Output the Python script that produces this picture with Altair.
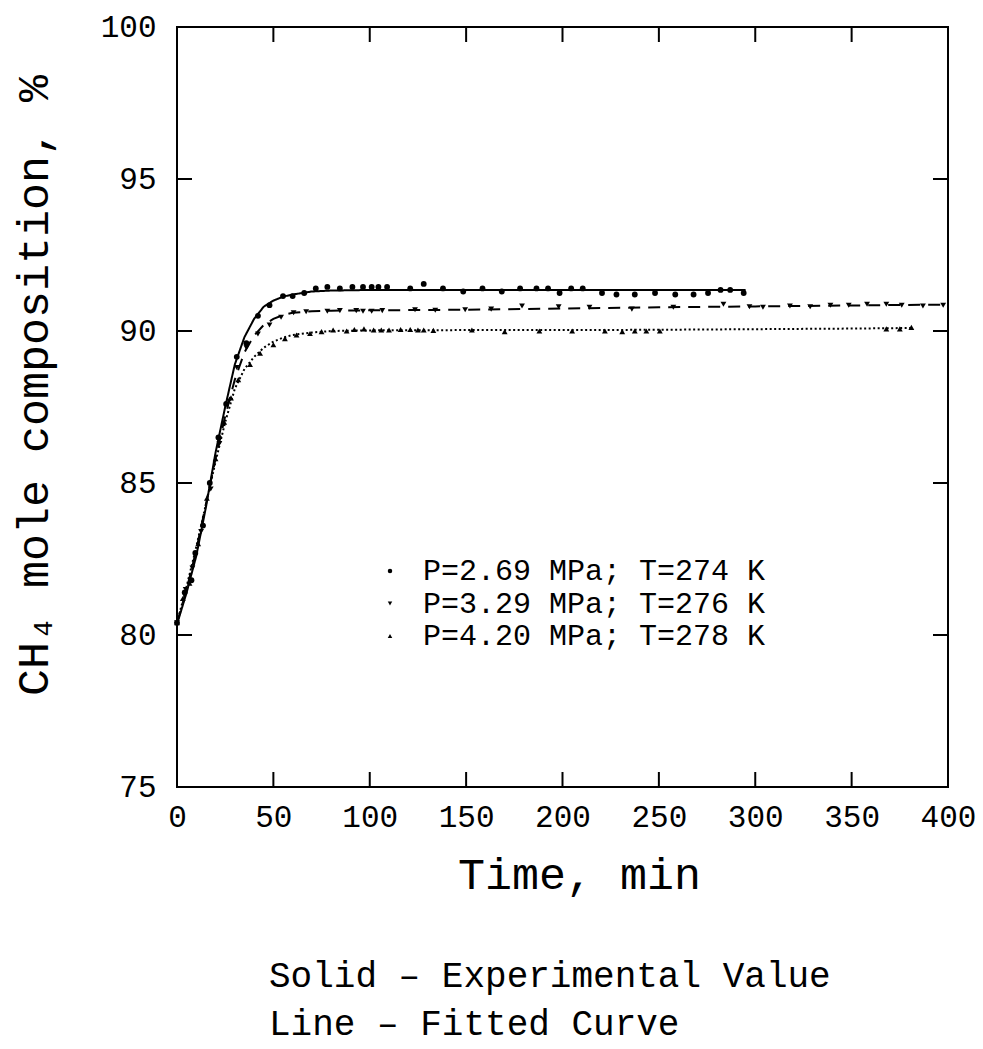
import altair as alt
import pandas as pd

FONT = "Liberation Mono"

series_names = ["P=2.69 MPa; T=274 K", "P=3.29 MPa; T=276 K", "P=4.20 MPa; T=278 K"]

# Experimental points (time in min, CH4 mole %)
t1 = [0, 4, 7.5, 9.5, 13.5, 17, 21.5, 25.5, 31, 36, 42, 48, 55, 60, 66, 72, 78, 84.5, 91,
      96.5, 101, 104.5, 109, 121, 128, 138, 148.5, 158.5, 168.5, 178, 186.5, 192.5, 198.5,
      204.5, 210.5, 220.5, 228, 237.5, 248, 258.5, 268, 275.5, 282, 287, 294]
y1 = [80.4, 81.4, 81.8, 82.7, 83.6, 85.0, 86.5, 87.6, 89.15, 89.6, 90.5, 90.85, 91.15, 91.15,
      91.25, 91.4, 91.45, 91.4, 91.45, 91.45, 91.45, 91.45, 91.45, 91.4, 91.55, 91.4, 91.3,
      91.4, 91.3, 91.4, 91.4, 91.4, 91.25, 91.4, 91.4, 91.25, 91.2, 91.2, 91.25, 91.2, 91.2,
      91.25, 91.35, 91.35, 91.25]

t2 = [0, 4.5, 8, 12.5, 17.5, 22, 27, 31, 36, 42, 48, 54, 60.5, 67, 78, 84.5, 93, 96.5, 101,
      106.5, 123.5, 134, 149.5, 163, 179, 198, 214, 236, 257.5, 283.5, 297, 304, 318, 328.5,
      339, 348.5, 358, 368, 376, 387, 397.5]
y2 = [80.4, 81.5, 82.2, 83.4, 84.8, 86.3, 87.7, 88.8, 89.45, 89.9, 90.2, 90.45, 90.6, 90.63,
      90.65, 90.67, 90.67, 90.65, 90.65, 90.67, 90.7, 90.68, 90.7, 90.72, 90.82, 90.8, 90.78,
      90.72, 90.78, 90.88, 90.8, 90.78, 90.82, 90.8, 90.85, 90.85, 90.88, 90.88, 90.85, 90.82,
      90.85]

t3 = [0, 3, 6.5, 11, 15.5, 20, 24.5, 28, 31.8, 37.9, 43.1, 50, 56, 62, 69, 75, 81, 88, 92, 97,
      102, 106, 110, 116, 121, 125, 128, 133, 153, 170, 188, 205, 222, 231, 237.5, 243.5,
      250.5, 368, 375, 381]
y3 = [80.4, 81.2, 81.7, 83.0, 84.5, 85.8, 87.0, 87.8, 88.4, 88.9, 89.27, 89.55, 89.75, 89.87,
      89.92, 89.98, 90.03, 90.0, 90.05, 90.07, 90.03, 90.03, 90.03, 90.05, 90.05, 90.03, 90.03,
      90.02, 90.03, 89.98, 90.0, 90.0, 90.0, 89.98, 90.0, 90.0, 90.0, 90.07, 90.07, 90.12]

# Fitted curves
ft1 = [0, 5, 10, 15, 20, 25, 30, 35, 40, 45, 50, 55, 60, 70, 80, 100, 150, 200, 250, 295]
fy1 = [80.35, 81.4, 82.6, 84.2, 86.0, 87.5, 88.9, 89.8, 90.4, 90.8, 91.0, 91.13, 91.2, 91.3,
       91.33, 91.35, 91.35, 91.35, 91.35, 91.35]
ft2 = [0, 5, 10, 15, 20, 25, 30, 35, 40, 45, 50, 55, 60, 70, 80, 100, 150, 200, 250, 300, 350, 400]
fy2 = [80.4, 81.5, 82.8, 84.3, 85.8, 87.2, 88.4, 89.3, 89.85, 90.2, 90.4, 90.52, 90.6, 90.65,
       90.67, 90.68, 90.7, 90.74, 90.78, 90.81, 90.84, 90.87]
ft3 = [0, 5, 10, 15, 20, 25, 30, 35, 40, 45, 50, 55, 60, 70, 80, 100, 150, 200, 250, 300, 350, 382]
fy3 = [80.4, 81.6, 82.9, 84.3, 85.7, 87.0, 88.1, 88.75, 89.15, 89.45, 89.65, 89.78, 89.87,
       89.95, 90.0, 90.02, 90.03, 90.03, 90.04, 90.06, 90.08, 90.1]

x_label_values = [0, 50, 100, 150, 200, 250, 300, 350, 400]
y_label_values = [75, 80, 85, 90, 95, 100]
x_tick_values = [50, 100, 150, 200, 250, 300, 350]
y_tick_values = [80, 85, 90, 95]

pts = pd.concat([
    pd.DataFrame({"t": t1, "v": y1, "s": series_names[0]}),
    pd.DataFrame({"t": t2, "v": y2, "s": series_names[1]}),
    pd.DataFrame({"t": t3, "v": y3, "s": series_names[2]}),
])
fit_frames = [
    pd.DataFrame({"t": ft1, "v": fy1}),
    pd.DataFrame({"t": ft2, "v": fy2}),
    pd.DataFrame({"t": ft3, "v": fy3}),
]
dashes = [[1, 0], [12, 8], [2, 2.5]]
xt = pd.DataFrame({"t": x_tick_values})
yt = pd.DataFrame({"v": y_tick_values})

W, H = 771, 760
xs = alt.Scale(domain=[0, 400], nice=False, zero=False)
ys = alt.Scale(domain=[75, 100], nice=False, zero=False)

x_axis = alt.Axis(values=x_label_values, tickSize=0, domain=False, grid=False, labelFlush=False,
                  labelFont=FONT, labelFontSize=31, labelColor="black", labelPadding=15,
                  labelBaseline="top", title="Time, min", titleFont=FONT, titleFontSize=45,
                  titleFontWeight="normal", titleColor="black", titleY=101, titleX=402,
                  titleAlign="center", titleBaseline="alphabetic")
y_axis = alt.Axis(values=y_label_values, tickSize=0, domain=False, grid=False,
                  labelFont=FONT, labelFontSize=31, labelColor="black", labelPadding=21,
                  title="CH₄ mole composition, %", titleFont=FONT, titleFontSize=45,
                  titleFontWeight="normal", titleColor="black", titleAngle=270,
                  titleX=-130, titleY=358, titleAlign="center", titleBaseline="alphabetic")

X = alt.X("t:Q", scale=xs, axis=x_axis)
Y = alt.Y("v:Q", scale=ys, axis=y_axis)

line_layers = [
    alt.Chart(df).mark_line(color="black", strokeWidth=2, strokeDash=d).encode(x=X, y=Y)
    for df, d in zip(fit_frames, dashes)
]

points = alt.Chart(pts).mark_point(filled=True, color="black", size=34, opacity=1).encode(
    x=X, y=Y,
    shape=alt.Shape("s:N", scale=alt.Scale(domain=series_names,
                    range=["circle", "triangle-down", "triangle-up"]),
                    legend=alt.Legend(title=None, orient="none", legendX=198, legendY=529,
                                      labelFont=FONT, labelFontSize=30, labelColor="black",
                                      labelLimit=600, symbolSize=20, symbolFillColor="black",
                                      symbolStrokeColor="black", labelOffset=18,
                                      rowPadding=2.5, padding=0)),
)

bottom_ticks = alt.Chart(xt).mark_rule(color="black", strokeWidth=2).encode(
    x=X, y=alt.value(H), y2=alt.value(H - 15))
top_ticks = alt.Chart(xt).mark_rule(color="black", strokeWidth=2).encode(
    x=X, y=alt.value(0), y2=alt.value(15))
left_ticks = alt.Chart(yt).mark_rule(color="black", strokeWidth=2).encode(
    y=Y, x=alt.value(0), x2=alt.value(15))
right_ticks = alt.Chart(yt).mark_rule(color="black", strokeWidth=2).encode(
    y=Y, x=alt.value(W), x2=alt.value(W - 15))

chart = alt.layer(*line_layers, points, bottom_ticks, top_ticks, left_ticks, right_ticks).properties(
    width=W, height=H,
    autosize=alt.AutoSizeParams(type="none"),
    padding={"left": 177, "top": 27, "right": 35, "bottom": 262},
    background="white",
    title=alt.TitleParams(text=["Solid – Experimental Value", "Line – Fitted Curve"],
                          orient="bottom", anchor="start", frame="group", dx=92,
                          font=FONT, fontSize=36, fontWeight="normal", color="black",
                          lineHeight=48, offset=62),
).configure_view(stroke="black", strokeWidth=2)

chart.save("out.html", embed_options={"renderer": "svg", "actions": False})
